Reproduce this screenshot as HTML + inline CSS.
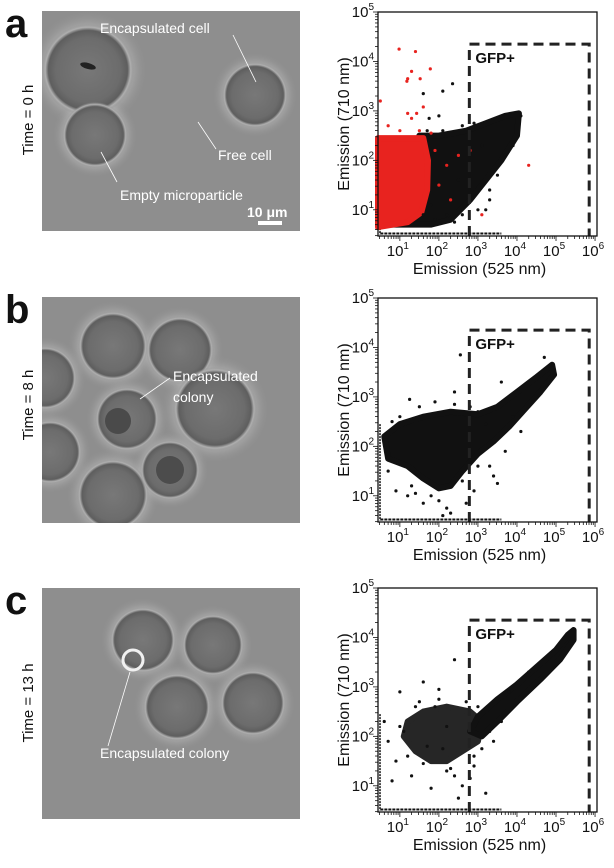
<!DOCTYPE html>
<html><head><meta charset="utf-8"><style>
html,body{margin:0;padding:0;background:#fff;}
body{width:614px;height:868px;position:relative;overflow:hidden;font-family:"Liberation Sans",Arial,sans-serif;}
svg{position:absolute;left:0;top:0;}
</style></head><body>
<svg id="fig" width="614" height="868" viewBox="0 0 614 868">
<defs>
<radialGradient id="bead" cx="50%" cy="50%" r="50%">
<stop offset="0%" stop-color="#787878"/><stop offset="70%" stop-color="#6c6c6c"/><stop offset="86%" stop-color="#5e5e5e"/><stop offset="93%" stop-color="#b0b0b0"/><stop offset="100%" stop-color="#8e8e8e" stop-opacity="0"/>
</radialGradient>
<radialGradient id="halo" cx="50%" cy="50%" r="50%">
<stop offset="60%" stop-color="#d8d8d8" stop-opacity="0.7"/><stop offset="100%" stop-color="#8e8e8e" stop-opacity="0"/>
</radialGradient>
</defs>
</svg>
<script>
// ---------- chart data (log10 units) ----------
const xTicks = [1,2,3,4,5,6];
const yTicks = [1,2,3,4,5];
const panelTops = [12, 298, 588];
const gateA = [2.78, 5.85, 4.35];
const gateB = [2.78, 5.85, 4.35];
const gateC = [2.78, 5.85, 4.35];
// dense regions (polygons in log10 data coords)
const blackRegionA = [[0.6,0.7],[1.8,0.7],[2.3,0.8],[2.8,1.2],[3.2,1.6],[3.6,2.0],[4.0,2.5],[4.05,2.95],[3.7,2.9],[3.2,2.75],[2.7,2.6],[2.0,2.5],[1.5,2.5]];
const redRegionA = [[0.44,0.65],[1.2,0.75],[1.55,0.95],[1.7,1.4],[1.72,2.0],[1.6,2.45],[0.44,2.45]];
const blackRegionB = [[0.6,2.2],[1.0,2.45],[1.6,2.6],[2.3,2.7],[3.0,2.65],[3.5,2.8],[4.0,3.1],[4.5,3.4],[4.9,3.65],[4.95,3.45],[4.6,3.1],[4.2,2.75],[3.8,2.4],[3.4,2.1],[3.0,1.85],[2.6,1.5],[2.3,1.2],[2.0,1.15],[1.6,1.35],[1.2,1.6],[0.7,1.75]];
const blackRegionC = [[3.0,2.4],[3.5,2.75],[4.0,3.05],[4.5,3.4],[5.0,3.75],[5.3,4.05],[5.45,4.15],[5.45,3.95],[5.1,3.55],[4.6,3.15],[4.0,2.7],[3.5,2.3],[3.1,2.0],[2.8,2.1]];
const blobRegionC = [[1.2,2.3],[1.6,2.5],[2.2,2.6],[2.8,2.5],[3.1,2.3],[3.0,1.9],[2.6,1.7],[2.2,1.5],[1.8,1.5],[1.4,1.7],[1.1,2.0]];
// individual outliers
const redPtsX = [0.98,1.4,1.3,1.2,1.78,1.18,1.52,1.2,1.3,1.43,1.6,4.3,0.5,1.0,2.2,2.5,2.0,1.9,2.8,3.1,0.7,1.5,1.8,2.3];
const redPtsY = [4.25,4.2,3.8,3.65,3.85,3.6,3.65,2.95,2.85,2.95,3.08,1.9,3.2,2.6,1.9,2.1,1.5,2.2,2.2,0.9,2.7,2.6,2.55,1.2];
const blkPtsAX = [2.35,2.1,1.6,3.2,3.3,1.75,2.6,2.0,1.9,2.2,2.6,3.0,2.4,1.8,3.5,3.9,4.1,3.3,2.9,1.7,2.5,3.1,2.1,1.6,3.7];
const blkPtsAY = [3.55,3.4,3.35,1.0,1.2,2.85,2.7,2.9,0.8,0.9,0.9,1.0,0.75,1.1,1.7,2.3,2.9,1.4,2.75,2.6,1.6,2.3,2.6,0.9,2.1];
const blkPtsBX = [2.55,1.25,3.6,2.4,3.0,3.4,1.2,1.6,2.2,2.7,3.5,0.9,1.5,2.9,2.1,0.8,1.0,1.9,2.4,2.8,3.2,3.7,4.1,4.7,1.3,1.8,2.6,3.3,0.7,2.0,2.3,1.4,3.9,4.4,3.0];
const blkPtsBY = [3.85,2.95,3.3,3.1,2.7,1.4,1.0,0.85,0.75,0.85,1.25,1.1,2.8,1.1,0.6,2.5,2.6,2.9,2.85,2.8,2.45,1.9,2.3,3.8,1.2,1.0,1.3,1.6,1.5,0.9,0.65,1.05,2.6,2.9,1.6];
const blkPtsCX = [2.4,1.6,2.0,1.0,0.8,1.4,2.2,2.6,1.2,2.9,3.2,2.5,1.8,3.6,2.2,3.3,1.1,0.7,1.5,2.0,2.7,3.0,1.3,0.9,2.4,1.7,2.9,3.4,3.8,4.3,1.0,2.3,2.8,1.6,2.1,3.1,0.6,1.9];
const blkPtsCY = [3.55,3.1,2.95,2.9,1.1,2.6,1.3,1.0,1.6,1.4,0.85,0.75,0.95,2.3,2.2,2.1,2.1,1.9,2.7,2.75,2.7,2.6,1.2,1.5,1.2,1.8,1.6,1.9,2.9,3.3,2.2,1.35,1.15,1.45,1.75,1.75,2.3,2.6];

const NS='http://www.w3.org/2000/svg';
const fig=document.getElementById('fig');
function mk(tag,attrs,parent){const e=document.createElementNS(NS,tag);for(const k in attrs)e.setAttribute(k,attrs[k]);(parent||fig).appendChild(e);return e;}

const X0=378,X1=597,XMIN=0.44,XMAX=6.05,YMIN=0.47,YMAX=5.0,H=224;
function sx(v){return X0+(v-XMIN)/(XMAX-XMIN)*(X1-X0);}
function syf(top){return v=>top+H-(v-YMIN)/(YMAX-YMIN)*H;}

// ---------- microscopy images ----------
const images=[
 {top:11,h:220,beads:[[88,70,46],[95,135,33],[255,95,33]],letter:'a',time:'Time = 0 h',ty:120},
 {top:297,h:226,beads:[[113,346,35],[180,350,34],[45,378,32],[127,419,32],[215,409,42],[50,452,32],[113,495,36],[170,470,30]],letter:'b',time:'Time = 8 h',ty:405},
 {top:588,h:231,beads:[[143,640,33],[213,645,31],[177,707,34],[253,703,33]],letter:'c',time:'Time = 13 h',ty:703}
];
images.forEach((im,i)=>{
 const g=mk('g',{});
 
 
 mk('clipPath',{id:'clip'+i},g);
 mk('rect',{x:42,y:im.top,width:258,height:im.h},g.lastChild);
 const inner=mk('g',{'clip-path':'url(#clip'+i+')'},g);
 mk('rect',{x:42,y:im.top,width:258,height:im.h,fill:'#8e8e8e'},inner);
 im.beads.forEach(b=>mk('circle',{cx:b[0],cy:b[1],r:b[2]*1.3,fill:'url(#halo)'},inner));
 im.beads.forEach(b=>mk('circle',{cx:b[0],cy:b[1],r:b[2],fill:'url(#bead)'},inner));
 const L=mk('text',{x:5,y:im.top+26,'font-size':40,'font-weight':'bold',fill:'#111'});
 L.textContent=im.letter;
 
 
 const T=mk('text',{x:0,y:0,'font-size':15,fill:'#111','text-anchor':'middle',transform:'translate(33,'+im.ty+') rotate(-90)'});
 T.textContent=im.time;
 
 
});
// extra micrograph details
mk('ellipse',{cx:88,cy:66,rx:8,ry:3,fill:'#222',transform:'rotate(15 88 66)'});
mk('circle',{cx:118,cy:421,r:13,fill:'#4a4a4a'});
mk('circle',{cx:170,cy:470,r:14,fill:'#4c4c4c'});
mk('circle',{cx:133,cy:660,r:10,fill:'none',stroke:'#f0f0f0','stroke-width':3});
function note(x,y,txt,name,lx1,ly1,lx2,ly2,size){
 const t=mk('text',{x:x,y:y,'font-size':size||14,fill:'#fff'});t.textContent=txt;
 
 
 if(lx1!==undefined) mk('line',{x1:lx1,y1:ly1,x2:lx2,y2:ly2,stroke:'#fff','stroke-width':0.8});
}
note(100,33,'Encapsulated cell','label-encapsulated-cell',233,35,256,82);
note(218,160,'Free cell','label-free-cell',216,149,198,122);
note(120,200,'Empty microparticle','label-empty-microparticle',117,182,101,152);
const sc=mk('text',{x:247,y:217,'font-size':14,'font-weight':'bold',fill:'#fff'});sc.textContent='10 μm';


mk('rect',{x:258,y:221,width:24,height:4,fill:'#fff'});
note(173,381,'Encapsulated','label-encapsulated-colony-b',170,378,140,399);
note(173,402,'colony','label-encapsulated-colony-b2');
note(100,758,'Encapsulated colony','label-encapsulated-colony-c',108,746,130,672);

// ---------- scatter plots ----------
const panels=[
 {top:panelTops[0],gate:gateA,regions:[[blackRegionA,'#111'],[redRegionA,'#e8231f']],pts:[[blkPtsAX,blkPtsAY,'#111'],[redPtsX,redPtsY,'#e8231f']],id:'a'},
 {top:panelTops[1],gate:gateB,regions:[[blackRegionB,'#111']],pts:[[blkPtsBX,blkPtsBY,'#111']],id:'b'},
 {top:panelTops[2],gate:gateC,regions:[[blobRegionC,'#262626'],[blackRegionC,'#111']],pts:[[blkPtsCX,blkPtsCY,'#111']],id:'c'}
];
panels.forEach(p=>{
 const sy=syf(p.top);
 const g=mk('g',{});
 
 
 mk('line',{x1:sx(0.5),y1:sy(0.52),x2:sx(3.6),y2:sy(0.52),stroke:'#111','stroke-width':2,'stroke-dasharray':'3,1'},g);
 mk('line',{x1:X0+2,y1:sy(2.45),x2:X0+2,y2:sy(0.5),stroke:'#111','stroke-width':1.5,'stroke-dasharray':'2,1'},g);
 p.regions.forEach(r=>{
  const poly=mk('polygon',{points:r[0].map(q=>sx(q[0])+','+sy(q[1])).join(' '),fill:r[1],stroke:r[1],'stroke-width':6,'stroke-linejoin':'round'},g);
  
  
 });
 p.pts.forEach(s=>{
  s[0].forEach((v,i)=>{
   const c=mk('circle',{cx:sx(v),cy:sy(s[1][i]),r:1.6,fill:s[2]},g);
   
   
  });
 });
 const gx0=sx(p.gate[0]),gx1=sx(p.gate[1]),gy=sy(p.gate[2]),gb=p.top+H;
 const gate=mk('path',{d:`M${gx0},${gb} L${gx0},${gy} L${gx1},${gy} L${gx1},${gb}`,fill:'none',stroke:'#222','stroke-width':3,'stroke-dasharray':'10,6'},g);
 
 
 const gt=mk('text',{x:gx0+6,y:gy+19,'font-size':15,'font-weight':'bold',fill:'#111'},g);gt.textContent='GFP+';
 
 
 mk('rect',{x:X0,y:p.top,width:X1-X0,height:H,fill:'none',stroke:'#111','stroke-width':1.3},g);
 for(let d=0;d<=6;d++){for(let m=1;m<10;m++){const v=d+Math.log10(m);if(v<XMIN||v>XMAX)continue;
  mk('line',{x1:sx(v),x2:sx(v),y1:p.top+H,y2:p.top+H+(m===1?5:3),stroke:'#111','stroke-width':0.8},g);}}
 for(let d=0;d<=5;d++){for(let m=1;m<10;m++){const v=d+Math.log10(m);if(v<YMIN||v>YMAX)continue;
  mk('line',{x1:X0,x2:X0-(m===1?5:3),y1:sy(v),y2:sy(v),stroke:'#111','stroke-width':0.8},g);}}
 xTicks.forEach(t=>{const tx=mk('text',{x:sx(t)-2,y:p.top+H+20,'font-size':15,'text-anchor':'middle',fill:'#111'},g);
  tx.innerHTML='10<tspan dy="-7" font-size="10">'+t+'</tspan>';
  
  });
 yTicks.forEach(t=>{const tx=mk('text',{x:X0-4,y:sy(t)+5,'font-size':15,'text-anchor':'end',fill:'#111'},g);
  tx.innerHTML='10<tspan dy="-7" font-size="10">'+t+'</tspan>';
  
  });
 const xl=mk('text',{x:(X0+X1)/2-8,y:p.top+H+38,'font-size':16,'text-anchor':'middle',fill:'#111'},g);xl.textContent='Emission (525 nm)';
 
 
 const yl=mk('text',{x:0,y:0,'font-size':16,'text-anchor':'middle',fill:'#111',transform:`translate(349,${p.top+H/2}) rotate(-90)`},g);yl.textContent='Emission (710 nm)';
 
 
});
</script>
</body></html>
